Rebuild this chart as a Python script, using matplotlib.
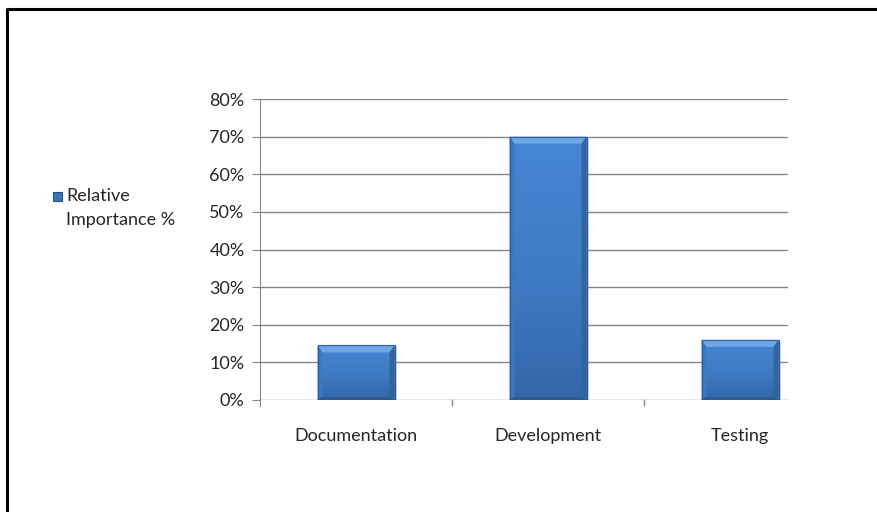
import numpy as np
import matplotlib.pyplot as plt
from matplotlib.colors import LinearSegmentedColormap
from matplotlib.patches import Polygon, Rectangle
from matplotlib.lines import Line2D

categories = ["Documentation", "Development", "Testing"]
values = [0.145, 0.70, 0.16]
yticks = [0, 0.1, 0.2, 0.3, 0.4, 0.5, 0.6, 0.7, 0.8]
series_name = "Relative\nImportance %"

plt.rcParams['font.family'] = ['Lato', 'DejaVu Sans']

fig = plt.figure(figsize=(8.77, 5.12), dpi=100)
ax = fig.add_axes([260 / 877, 1 - 400 / 512, 528 / 877, 301 / 512])

grid_c = "#868686"
txt_c = "#262626"
# plot area is cut on the right, last category only partly shown
xmax = -0.5 + 528 / 192
ax.set_xlim(-0.5, xmax)
ax.set_ylim(0, 0.8)
ax.set_yticks(yticks)
ax.set_yticklabels(["%d%%" % round(v * 100) for v in yticks])
for y in yticks:
    ax.axhline(y, color=grid_c, lw=1.0, zorder=1)

# bar geometry: pixels -> data units
px_x = (xmax + 0.5) / 528
px_y = 0.8 / 301
width = 77 * px_x
bx = 5 * px_x
by = 7 * px_y
bb = 3 * px_y

cmap = LinearSegmentedColormap.from_list("b", ["#3466a8", "#3f7cc6", "#4586d4"])
grad = np.linspace(0, 1, 256).reshape(-1, 1)
for i, v in enumerate(values):
    x0, x1 = i - width / 2, i + width / 2
    # soft shadow
    ax.add_patch(Rectangle((x0 + 2 * px_x, -2 * px_y), width, v, color="#a0a0a0",
                           alpha=0.5, lw=0, zorder=2))
    im = ax.imshow(grad, extent=(x0, x1, 0, v), origin="lower", aspect="auto",
                   cmap=cmap, zorder=3)
    rect = Rectangle((x0, 0), width, v, transform=ax.transData, fc="none", lw=0)
    ax.add_patch(rect)
    im.set_clip_path(rect)
    # bevels
    ax.add_patch(Polygon([(x0, v), (x1, v), (x1 - bx, v - by), (x0 + bx, v - by)],
                         fc="#6ea6e6", lw=0, zorder=4))
    ax.add_patch(Polygon([(x0, v), (x0 + bx, v - by), (x0 + bx, bb), (x0, 0)],
                         fc="#3c77bf", lw=0, zorder=4))
    ax.add_patch(Polygon([(x1, v), (x1 - bx, v - by), (x1 - bx, bb), (x1, 0)],
                         fc="#32659f", lw=0, zorder=4))
    ax.add_patch(Polygon([(x0, 0), (x1, 0), (x1 - bx, bb), (x0 + bx, bb)],
                         fc="#2b5a94", lw=0, zorder=4))
    ax.add_patch(Rectangle((x0, 0), width, v, fc="none", ec="#2f5f9c", lw=0.8, zorder=5))

for s in ["top", "right", "bottom"]:
    ax.spines[s].set_visible(False)
ax.spines["left"].set_color(grid_c)
ax.spines["left"].set_bounds(-6 * px_y, 0.8)
ax.tick_params(axis="y", length=6, color=grid_c, labelsize=13, labelcolor=txt_c, pad=5)
ax.set_xticks(range(len(categories)))
ax.set_xticklabels(categories)
ax.tick_params(axis="x", length=0, labelsize=13, labelcolor=txt_c, pad=20)
# category separator ticks
for xb in [0.5, 1.5]:
    ax.add_line(Line2D([xb, xb], [0, -5 * px_y], color=grid_c, lw=1.0, clip_on=False))

# legend
fig.patches.append(Rectangle((53 / 877, 1 - 201 / 512), 9 / 877, 9 / 512,
                             transform=fig.transFigure, fc="#3a74bd", ec="#24508a", lw=0.8))
fig.text(66 / 877, 1 - 188 / 512, series_name, fontsize=13, color=txt_c,
         va="top", ha="left", linespacing=1.65)

# outer frame
fig.add_artist(Line2D([6.5 / 877, 6.5 / 877, 1.0], [0, 1 - 9 / 512, 1 - 9 / 512],
                      transform=fig.transFigure, color="black", lw=2.2))

fig.savefig("out.png", dpi=100)
